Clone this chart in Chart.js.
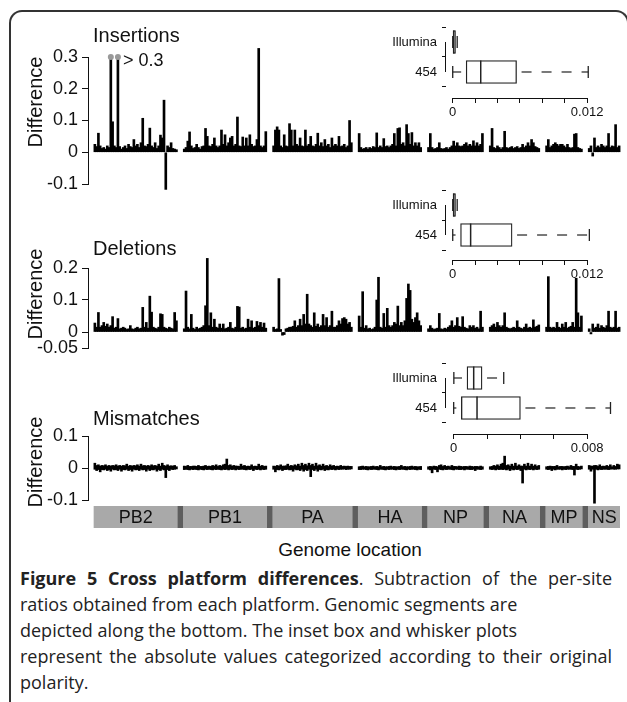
<!DOCTYPE html>
<html>
<head>
<meta charset="utf-8">
<script src="https://cdn.jsdelivr.net/npm/chart.js"></script>
<style>
  html, body { margin: 0; padding: 0; background: #fff; }
  #page { position: relative; width: 627px; height: 702px; overflow: hidden; font-family: "Liberation Sans", Arial, sans-serif; color: #111; }
  #frame { position: absolute; left: 9px; top: 10px; width: 620px; height: 740px; box-sizing: border-box;
           border: 2px solid #333; border-bottom: none; border-radius: 13px 13px 0 0; }
  canvas { position: absolute; }
  .lbl { position: absolute; white-space: nowrap; line-height: 1; }
  .ttl { font-size: 20px; }
  .ylab { font-size: 20px; transform: translate(-50%, -50%) rotate(-90deg); }
  #caption { position: absolute; left: 20px; top: 565px; width: 592px; color: #222; }
  #caption div { font-family: "Open Sans", "Noto Sans", sans-serif; font-size: 18px; line-height: 26px; text-align: left; white-space: nowrap; }
  #caption .full { text-align: justify; text-align-last: justify; }
</style>
</head>
<body>
<div id="page">
  <div id="frame"></div>

  <canvas id="insChart" width="627" height="159" style="left:0;top:41px"></canvas>
  <canvas id="delChart" width="627" height="112" style="left:0;top:252px"></canvas>
  <canvas id="misChart" width="627" height="96" style="left:0;top:420px"></canvas>
  <canvas id="insBox" width="251" height="109" style="left:376px;top:13px"></canvas>
  <canvas id="delBox" width="251" height="108" style="left:376px;top:176px"></canvas>
  <canvas id="misBox" width="251" height="109" style="left:376px;top:349px"></canvas>
  <canvas id="genomeBar" width="627" height="22" style="left:0;top:506px"></canvas>

  <div class="lbl ttl" style="left:93px;top:25px">Insertions</div>
  <div class="lbl ttl" style="left:93px;top:238px">Deletions</div>
  <div class="lbl ttl" style="left:93px;top:408px">Mismatches</div>
  <div class="lbl" style="left:123px;top:51px;font-size:18px">&gt; 0.3</div>
  <div class="lbl ylab" style="left:35px;top:102px">Difference</div>
  <div class="lbl ylab" style="left:35px;top:294px">Difference</div>
  <div class="lbl ylab" style="left:35px;top:462px">Difference</div>
  <div class="lbl" style="left:350px;top:540px;font-size:19px;transform:translateX(-50%)">Genome location</div>

  <div id="caption">
    <div class="full"><b>Figure 5 Cross platform differences</b>. Subtraction of the per-site</div>
    <div>ratios obtained from each platform. Genomic segments are</div>
    <div>depicted along the bottom. The inset box and whisker plots</div>
    <div class="full">represent the absolute values categorized according to their original</div>
    <div>polarity.</div>
  </div>
</div>

<script>
// genome segments (nt)
const segNames = ['PB2', 'PB1', 'PA', 'HA', 'NP', 'NA', 'MP', 'NS'];
const segLengths = [2341, 2341, 2233, 1778, 1565, 1413, 1027, 890];
const segGap = 170;

// insertions: per-site difference, one value per ~50 nt bin
const insPB2 = [0.025,0.018,0.06,0.02,0.012,0.015,0.01,0.02,0.015,0.3,0.096,0.02,0.015,0.3,0.018,0.01,0.015,0.02,0.012,0.025,0.018,0.015,0.04,0.02,0.025,0.015,0.03,0.107,0.02,0.018,0.025,0.076,0.02,0.015,0.03,0.012,0.02,0.054,0.045,0.164,-0.117,0.02,0.015,0.03,0.012,0.01,0.008];
const insPB1 = [0.01,0.015,0.035,0.064,0.02,0.012,0.015,0.025,0.015,0.01,0.018,0.02,0.075,0.05,0.02,0.018,0.025,0.045,0.02,0.015,0.02,0.07,0.025,0.055,0.02,0.03,0.045,0.05,0.02,0.025,0.111,0.02,0.018,0.048,0.02,0.045,0.02,0.055,0.025,0.018,0.02,0.04,0.327,0.02,0.015,0.02,0.065];
const insPA = [0.02,0.07,0.08,0.07,0.02,0.015,0.055,0.02,0.018,0.09,0.07,0.02,0.07,0.025,0.02,0.045,0.02,0.018,0.07,0.02,0.025,0.05,0.02,0.018,0.025,0.06,0.02,0.03,0.018,0.04,0.02,0.025,0.015,0.045,0.02,0.025,0.02,0.05,0.018,0.02,0.025,0.015,0.02,0.1,0.03];
const insHA = [0.059,0.015,0.01,0.012,0.015,0.01,0.015,0.012,0.018,0.015,0.061,0.015,0.02,0.015,0.043,0.018,0.02,0.015,0.02,0.025,0.059,0.02,0.075,0.077,0.025,0.03,0.02,0.087,0.059,0.025,0.062,0.02,0.03,0.02,0.03,0.015];
const insNP = [0.015,0.059,0.015,0.01,0.012,0.015,0.03,0.012,0.01,0.012,0.015,0.01,0.015,0.02,0.035,0.02,0.03,0.02,0.018,0.02,0.025,0.03,0.02,0.025,0.02,0.036,0.02,0.03,0.02,0.025,0.059];
const insNA = [0.02,0.075,0.015,0.012,0.02,0.015,0.01,0.015,0.066,0.015,0.012,0.015,0.018,0.012,0.015,0.018,0.012,0.015,0.025,0.015,0.02,0.03,0.02,0.04,0.03,0.018,0.015,0.012];
const insMP = [0.02,0.04,0.015,0.02,0.025,0.03,0.025,0.02,0.025,0.025,0.02,0.015,0.025,0.015,0.012,0.015,0.057,0.059,0.015,0.012,0.01];
const insNS = [0.012,0.02,-0.012,0.045,0.015,0.02,0.015,0.025,0.02,0.015,0.02,0.059,0.015,0.02,0.018,0.087,0.015,0.02];
const insCappedBins = [9, 13]; // PB2 bins above 0.3
const insTicks = [-0.1, 0, 0.1, 0.2, 0.3];

// deletions
const delPB2 = [0.028,0.015,0.061,0.015,0.02,0.03,0.018,0.025,0.015,0.02,0.048,0.012,0.015,0.042,0.01,0.012,0.015,0.012,0.008,0.01,0.02,0.01,0.008,0.012,0.015,0.01,0.012,0.077,0.015,0.03,0.012,0.112,0.062,0.015,0.012,0.01,0.015,0.057,0.055,0.015,0.012,0.01,0.015,0.012,0.01,0.061,0.035];
const delPB1 = [0.01,0.128,0.015,0.01,0.055,0.012,0.008,0.015,0.01,0.012,0.015,0.02,0.082,0.23,0.02,0.06,0.015,0.04,0.015,0.012,0.025,0.012,0.025,0.01,0.012,0.015,0.03,0.012,0.01,0.015,0.08,0.078,0.012,0.015,0.01,0.012,0.04,0.015,0.035,0.012,0.015,0.033,0.02,0.03,0.015,0.028,0.012];
const delPA = [0.015,0.008,0.01,0.167,0.008,-0.01,-0.008,0.01,0.012,0.015,0.015,0.018,0.035,0.015,0.02,0.04,0.02,0.055,0.025,0.118,0.025,0.02,0.015,0.06,0.018,0.025,0.015,0.02,0.055,0.02,0.045,0.015,0.02,0.065,0.015,0.015,0.02,0.035,0.025,0.042,0.045,0.04,0.025,0.03,0.015];
const delHA = [0.05,0.015,0.126,0.012,0.02,0.01,0.012,0.008,0.01,0.015,0.1,0.171,0.015,0.012,0.058,0.015,0.074,0.02,0.015,0.02,0.03,0.025,0.081,0.02,0.03,0.02,0.035,0.105,0.15,0.13,0.04,0.03,0.045,0.06,0.035,0.02];
const delNP = [0.01,0.02,0.012,0.008,0.01,0.012,0.058,0.01,0.008,0.012,0.01,0.015,0.02,0.035,0.015,0.02,0.045,0.018,0.015,0.048,0.015,0.012,0.01,0.02,0.015,0.02,0.012,0.015,0.01,0.065,0.015];
const delNA = [0.015,0.02,0.025,0.015,0.03,0.02,0.015,0.02,0.06,0.015,0.012,0.01,0.012,0.015,0.012,0.035,0.015,0.012,0.01,0.015,0.025,0.012,0.015,0.012,0.038,0.015,0.018,0.022];
const delMP = [0.015,0.173,0.015,0.012,0.015,0.012,0.03,0.015,0.012,0.025,0.015,0.03,0.012,0.015,0.018,0.03,0.015,0.168,0.06,0.015,0.05];
const delNS = [0.01,-0.006,0.025,0.012,0.015,0.025,0.012,0.02,0.015,0.012,0.02,0.065,0.015,0.012,0.015,0.065,0.012,0.015];
const delTicks = [-0.05, 0, 0.1, 0.2];

// mismatches: [lowest, highest] difference within each ~50 nt bin
const misPB2 = [[-0.004,0.015],[-0.008,0.008],[-0.005,0.01],[-0.012,0.006],[-0.005,0.008],[-0.006,0.007],[-0.004,0.01],[-0.008,0.006],[-0.005,0.008],[-0.01,0.006],[-0.004,0.008],[-0.006,0.007],[-0.005,0.01],[-0.008,0.006],[-0.004,0.008],[-0.01,0.006],[-0.005,0.008],[-0.006,0.007],[-0.004,0.012],[-0.008,0.006],[-0.005,0.008],[-0.01,0.006],[-0.004,0.008],[-0.006,0.007],[-0.005,0.01],[-0.008,0.006],[-0.004,0.012],[-0.006,0.007],[-0.005,0.008],[-0.01,0.006],[-0.004,0.008],[-0.008,0.006],[-0.005,0.01],[-0.006,0.007],[-0.004,0.008],[-0.01,0.006],[-0.005,0.012],[-0.008,0.006],[-0.004,0.015],[-0.006,0.008],[-0.03,0.006],[-0.005,0.01],[-0.008,0.006],[-0.004,0.007],[-0.005,0.006],[-0.004,0.008],[-0.003,0.004]];
const misPB1 = [[-0.005,0.006],[-0.004,0.005],[-0.005,0.008],[-0.006,0.005],[-0.004,0.005],[-0.005,0.006],[-0.004,0.006],[-0.005,0.005],[-0.006,0.008],[-0.004,0.005],[-0.005,0.005],[-0.006,0.006],[-0.004,0.008],[-0.005,0.005],[-0.004,0.006],[-0.005,0.005],[-0.006,0.008],[-0.004,0.006],[-0.005,0.01],[-0.004,0.005],[-0.005,0.008],[-0.006,0.006],[-0.004,0.01],[-0.005,0.012],[-0.004,0.028],[-0.006,0.008],[-0.004,0.01],[-0.005,0.006],[-0.004,0.008],[-0.006,0.006],[-0.004,0.006],[-0.005,0.005],[-0.004,0.012],[-0.004,0.006],[-0.005,0.008],[-0.006,0.005],[-0.004,0.006],[-0.005,0.005],[-0.004,0.01],[-0.008,0.005],[-0.004,0.006],[-0.005,0.005],[-0.004,0.012],[-0.006,0.006],[-0.004,0.008],[-0.005,0.005],[-0.004,0.006]];
const misPA = [[-0.004,0.006],[-0.012,0.005],[-0.005,0.008],[-0.006,0.006],[-0.004,0.01],[-0.008,0.006],[-0.005,0.006],[-0.005,0.007],[-0.004,0.012],[-0.006,0.006],[-0.005,0.008],[-0.01,0.006],[-0.004,0.01],[-0.006,0.007],[-0.005,0.012],[-0.008,0.006],[-0.004,0.015],[-0.01,0.008],[-0.005,0.012],[-0.008,0.007],[-0.004,0.015],[-0.027,0.008],[-0.005,0.012],[-0.008,0.006],[-0.004,0.015],[-0.01,0.007],[-0.005,0.01],[-0.006,0.006],[-0.004,0.012],[-0.008,0.006],[-0.005,0.008],[-0.006,0.005],[-0.004,0.01],[-0.005,0.006],[-0.004,0.008],[-0.006,0.005],[-0.004,0.006],[-0.005,0.005],[-0.004,0.008],[-0.004,0.005],[-0.003,0.006],[-0.005,0.005],[-0.004,0.006],[-0.004,0.005],[-0.003,0.005]];
const misHA = [[-0.005,0.004],[-0.005,0.005],[-0.004,0.006],[-0.004,0.004],[-0.005,0.005],[-0.006,0.004],[-0.004,0.004],[-0.005,0.005],[-0.004,0.006],[-0.004,0.004],[-0.005,0.005],[-0.006,0.004],[-0.004,0.008],[-0.004,0.004],[-0.005,0.005],[-0.006,0.004],[-0.004,0.004],[-0.005,0.005],[-0.004,0.006],[-0.004,0.004],[-0.005,0.005],[-0.006,0.004],[-0.004,0.004],[-0.005,0.005],[-0.004,0.008],[-0.004,0.004],[-0.005,0.005],[-0.006,0.004],[-0.004,0.004],[-0.005,0.005],[-0.004,0.006],[-0.004,0.004],[-0.005,0.005],[-0.006,0.004],[-0.004,0.004],[-0.005,0.005]];
const misNP = [[-0.004,0.004],[-0.006,0.005],[-0.015,0.004],[-0.004,0.006],[-0.005,0.005],[-0.012,0.004],[-0.004,0.008],[-0.005,0.01],[-0.006,0.005],[-0.004,0.008],[-0.005,0.005],[-0.004,0.006],[-0.004,0.004],[-0.005,0.008],[-0.006,0.005],[-0.004,0.005],[-0.004,0.004],[-0.005,0.006],[-0.005,0.005],[-0.004,0.004],[-0.006,0.005],[-0.004,0.005],[-0.004,0.004],[-0.005,0.006],[-0.005,0.005],[-0.004,0.004],[-0.008,0.005],[-0.004,0.005],[-0.004,0.004],[-0.005,0.006],[-0.004,0.004]];
const misNA = [[-0.004,0.004],[-0.005,0.005],[-0.004,0.008],[-0.006,0.006],[-0.004,0.01],[-0.005,0.006],[-0.004,0.012],[-0.005,0.015],[-0.004,0.037],[-0.006,0.008],[-0.004,0.01],[-0.008,0.006],[-0.004,0.012],[-0.006,0.006],[-0.004,0.015],[-0.005,0.006],[-0.004,0.01],[-0.008,0.006],[-0.047,0.006],[-0.004,0.012],[-0.006,0.006],[-0.004,0.015],[-0.005,0.006],[-0.004,0.012],[-0.006,0.006],[-0.004,0.01],[-0.005,0.005],[-0.004,0.008]];
const misMP = [[-0.004,0.004],[-0.005,0.005],[-0.004,0.006],[-0.008,0.005],[-0.004,0.005],[-0.006,0.005],[-0.004,0.008],[-0.004,0.004],[-0.004,0.005],[-0.006,0.005],[-0.004,0.004],[-0.005,0.005],[-0.004,0.006],[-0.004,0.004],[-0.004,0.008],[-0.005,0.005],[-0.022,0.005],[-0.004,0.012],[-0.005,0.005],[-0.004,0.004],[-0.003,0.006]];
const misNS = [[-0.004,0.008],[-0.01,0.006],[-0.004,0.006],[-0.11,0.008],[-0.004,0.008],[-0.006,0.005],[-0.004,0.01],[-0.005,0.005],[-0.004,0.006],[-0.004,0.005],[-0.004,0.008],[-0.005,0.005],[-0.004,0.01],[-0.003,0.004],[-0.004,0.008],[-0.004,0.005],[-0.003,0.012],[-0.003,0.01]];
const misTicks = [-0.1, 0, 0.1];

// inset box plots of absolute values: [min, q1, median, q3, max]
const boxRows = ['454', 'Illumina'];
const insBox454 = [0, 0.0012, 0.0025, 0.0057, 0.0121];
const insBoxIllumina = [0, 0.00003, 0.0001, 0.00025, 0.0004];
const delBox454 = [0, 0.0007, 0.0016, 0.0053, 0.0122];
const delBoxIllumina = [0, 0.00003, 0.0001, 0.00025, 0.0004];
const misBox454 = [0, 0.00046, 0.0014, 0.004, 0.0094];
const misBoxIllumina = [0.00001, 0.0008, 0.0012, 0.0017, 0.003];
const boxTicks012 = [0, 0.002, 0.004, 0.006, 0.008, 0.01, 0.012];
const boxTicks008 = [0, 0.002, 0.004, 0.006, 0.008];

Chart.defaults.font.family = '"Liberation Sans", Arial, sans-serif';
Chart.defaults.color = '#111';

const segStarts = [];
let pos = 0;
segLengths.forEach(len => { segStarts.push(pos); pos += len + segGap; });
const genomeEnd = pos - segGap;
const genomeMin = -140;

function binX(seg, i, n) {
    return segStarts[seg] + (i + 0.5) * segLengths[seg] / n;
}

function toPoints(segArrays) {
    const pts = [];
    segArrays.forEach((vals, s) => {
        vals.forEach((v, i) => pts.push({ x: binX(s, i, vals.length), y: v }));
    });
    return pts;
}

// R style axis line: only from first to last tick
const rAxes = {
    id: 'rAxes',
    afterDraw(chart, args, opts) {
        const ctx = chart.ctx, a = chart.chartArea;
        ctx.save();
        ctx.strokeStyle = '#111';
        ctx.lineWidth = 1;
        (opts.axes || []).forEach(id => {
            const s = chart.scales[id];
            const p0 = s.getPixelForValue(s.ticks[0].value);
            const p1 = s.getPixelForValue(s.ticks[s.ticks.length - 1].value);
            ctx.beginPath();
            if (s.isHorizontal()) {
                ctx.moveTo(p0, Math.round(a.bottom) + 0.5);
                ctx.lineTo(p1, Math.round(a.bottom) + 0.5);
            } else {
                ctx.moveTo(Math.round(a.left) - 0.5, p0);
                ctx.lineTo(Math.round(a.left) - 0.5, p1);
            }
            ctx.stroke();
        });
        ctx.restore();
    }
};

function desenharPainel(id, segArrays, yTicks, capped) {
    const datasets = [{
        type: 'bar',
        data: toPoints(segArrays),
        backgroundColor: '#000',
        borderWidth: 0,
        barThickness: 2,
        clip: false
    }];
    if (capped) {
        datasets.push({
            type: 'scatter',
            data: capped.map(i => ({ x: binX(0, i, segArrays[0].length), y: yTicks[yTicks.length - 1] })),
            pointRadius: 3,
            pointBackgroundColor: '#999',
            pointBorderWidth: 0,
            clip: false,
            order: -1
        });
    }
    new Chart(document.getElementById(id), {
        type: 'bar',
        data: { datasets },
        plugins: [rAxes],
        options: {
            responsive: false,
            animation: false,
            events: [],
            layout: { padding: { top: 16, bottom: 16, left: 0, right: 7 } },
            plugins: { legend: { display: false }, tooltip: { enabled: false }, rAxes: { axes: ['y'] } },
            scales: {
                x: { type: 'linear', display: false, offset: false, min: genomeMin, max: genomeEnd },
                y: {
                    type: 'linear',
                    min: yTicks[0],
                    max: yTicks[yTicks.length - 1],
                    afterFit: s => { s.width = 89; },
                    afterBuildTicks: s => { s.ticks = yTicks.map(v => ({ value: v })); },
                    border: { display: false },
                    grid: { drawOnChartArea: false, tickLength: 7, color: '#111' },
                    ticks: { padding: 4, font: { size: 18 }, color: '#111', callback: v => String(v) }
                }
            }
        }
    });
}

function desenharBox(id, rows, xTicks, xMin, xMax, yMin) {
    const line = { type: 'line', borderColor: '#222', borderWidth: 1.2, borderDash: [10, 10], borderDashOffset: 15, pointRadius: 0, fill: false, order: 2 };
    const datasets = [];
    rows.forEach((r, k) => {
        datasets.push({ ...line, data: [{ x: r[1], y: k + 1 }, { x: r[0], y: k + 1 }] });
        datasets.push({ ...line, data: [{ x: r[3], y: k + 1 }, { x: r[4], y: k + 1 }] });
    });
    datasets.push({
        type: 'bar',
        data: rows.map((r, k) => ({ x: [r[1], r[3]], y: k + 1 })),
        backgroundColor: '#fff',
        borderColor: '#222',
        borderWidth: 1.3,
        borderSkipped: false,
        barThickness: 23,
        order: 1
    });
    datasets.push({
        type: 'scatter',
        data: rows.map((r, k) => ({ x: r[2], y: k + 1 })),
        pointStyle: 'line', pointRotation: 90, pointRadius: 11.5,
        pointBorderColor: '#222', pointBorderWidth: 1.5, order: 0
    });
    datasets.push({
        type: 'scatter',
        data: rows.flatMap((r, k) => [{ x: r[0], y: k + 1 }, { x: r[4], y: k + 1 }]),
        pointStyle: 'line', pointRotation: 90, pointRadius: 6,
        pointBorderColor: '#222', pointBorderWidth: 1.3, order: 0
    });

    new Chart(document.getElementById(id), {
        type: 'bar',
        data: { datasets },
        plugins: [rAxes],
        options: {
            indexAxis: 'y',
            responsive: false,
            animation: false,
            events: [],
            layout: { padding: { top: 14, bottom: 0, left: 0, right: 6 } },
            plugins: { legend: { display: false }, tooltip: { enabled: false }, rAxes: { axes: ['x', 'y'] } },
            scales: {
                x: {
                    type: 'linear', min: xMin, max: xMax, offset: false,
                    afterFit: s => { s.height = 24; },
                    afterBuildTicks: s => { s.ticks = xTicks.map(v => ({ value: v })); },
                    border: { display: false },
                    grid: { drawOnChartArea: false, tickLength: 5, color: '#111' },
                    ticks: {
                        padding: 2, font: { size: 13 }, color: '#111', autoSkip: false, maxRotation: 0,
                        callback: (v, i, t) => (i === 0 || i === t.length - 1) ? String(v) : ''
                    }
                },
                y: {
                    type: 'linear', min: yMin, max: 2.5, offset: false,
                    afterFit: s => { s.width = 70; },
                    afterBuildTicks: s => { s.ticks = boxRows.map((r, k) => ({ value: k + 1 })); },
                    border: { display: false },
                    grid: { drawOnChartArea: false, tickLength: 4, color: '#111' },
                    ticks: { padding: 5, font: { size: 13 }, color: '#111', callback: v => boxRows[v - 1] }
                }
            }
        }
    });
}

const segmentLabels = {
    id: 'segmentLabels',
    afterDatasetsDraw(chart) {
        const ctx = chart.ctx, x = chart.scales.x, a = chart.chartArea;
        ctx.save();
        ctx.font = '18px "Liberation Sans", Arial, sans-serif';
        ctx.fillStyle = '#111';
        ctx.textAlign = 'center';
        ctx.textBaseline = 'middle';
        segNames.forEach((n, i) => {
            ctx.fillText(n, x.getPixelForValue(segStarts[i] + segLengths[i] / 2), (a.top + a.bottom) / 2 + 1);
        });
        ctx.restore();
    }
};

function desenharGenoma() {
    const segs = segNames.map((n, i) => ({ x: [segStarts[i], segStarts[i] + segLengths[i]], y: 'genome' }));
    const gaps = segStarts.slice(1).map((s, i) => ({ x: [s - segGap, s], y: 'genome' }));
    new Chart(document.getElementById('genomeBar'), {
        type: 'bar',
        data: {
            labels: ['genome'],
            datasets: [
                { data: segs, backgroundColor: '#a9a9a9', borderWidth: 0, grouped: false, barPercentage: 1, categoryPercentage: 1 },
                { data: gaps, backgroundColor: '#5e5e5e', borderWidth: 0, grouped: false, barPercentage: 1, categoryPercentage: 1 }
            ]
        },
        plugins: [segmentLabels],
        options: {
            indexAxis: 'y',
            responsive: false,
            animation: false,
            events: [],
            layout: { padding: { top: 0, bottom: 0, left: 89, right: 7 } },
            plugins: { legend: { display: false }, tooltip: { enabled: false } },
            scales: {
                x: { type: 'linear', display: false, offset: false, min: genomeMin, max: genomeEnd },
                y: { type: 'category', display: false }
            }
        }
    });
}

desenharPainel('insChart', [insPB2, insPB1, insPA, insHA, insNP, insNA, insMP, insNS], insTicks, insCappedBins);
desenharPainel('delChart', [delPB2, delPB1, delPA, delHA, delNP, delNA, delMP, delNS], delTicks);
desenharPainel('misChart', [misPB2, misPB1, misPA, misHA, misNP, misNA, misMP, misNS], misTicks);

desenharBox('insBox', [insBox454, insBoxIllumina], boxTicks012, -0.0006, 0.0144, 0.133);
desenharBox('delBox', [delBox454, delBoxIllumina], boxTicks012, -0.0006, 0.0144, 0.167);
desenharBox('misBox', [misBox454, misBoxIllumina], boxTicks008, -0.00046, 0.00961, 0.133);

desenharGenoma();
</script>
</body>
</html>
